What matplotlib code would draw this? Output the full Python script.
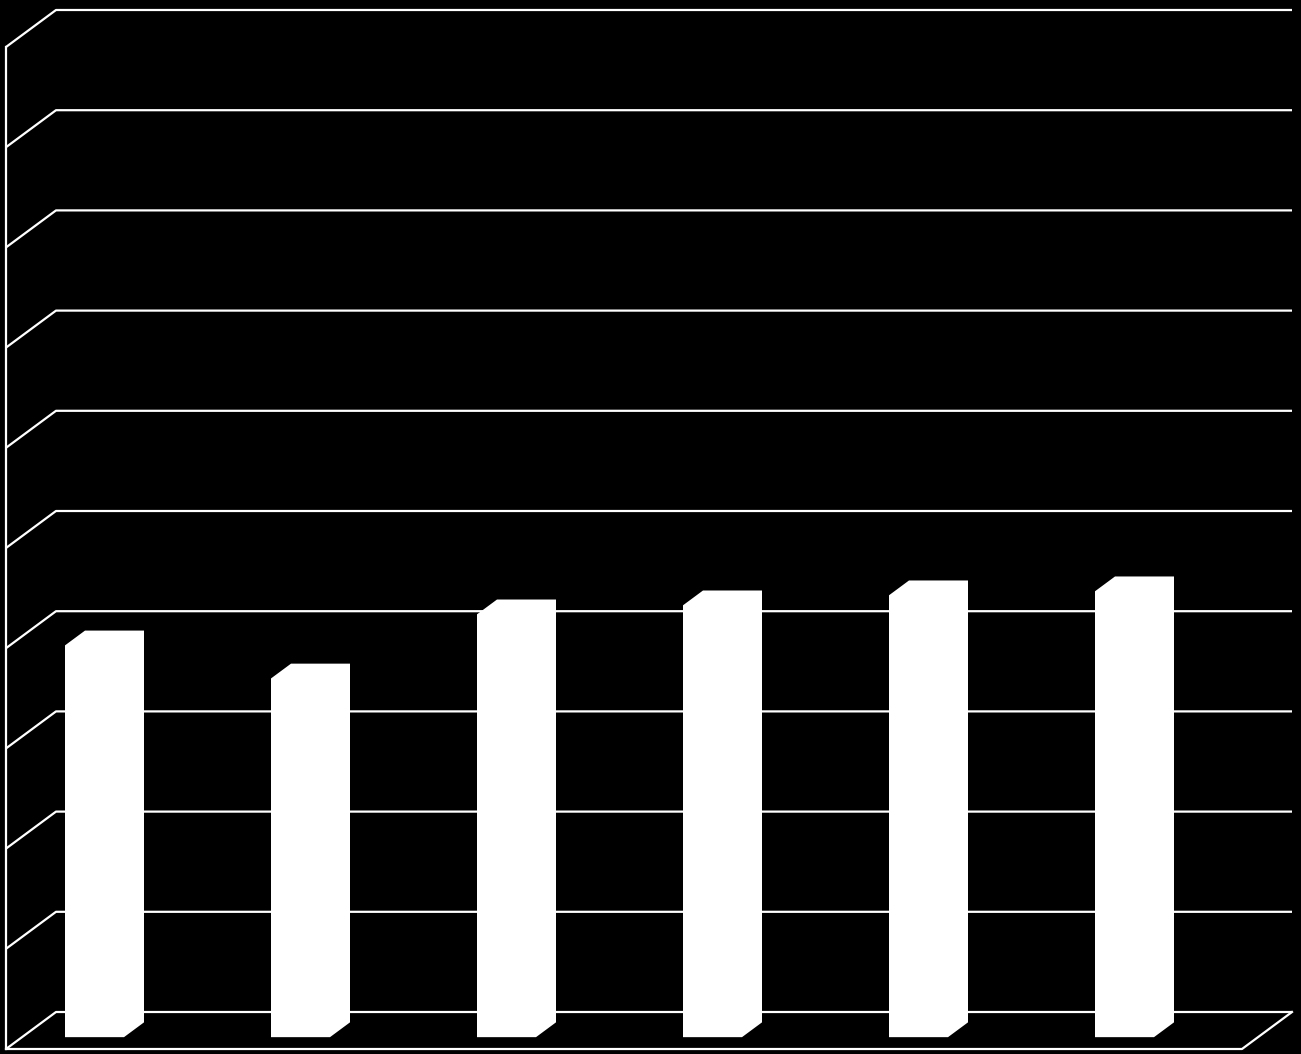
"""
3D-style bar chart on a black background: white bars, white gridlines on a
back wall with a slanted left wall and floor. No labels in the original.
"""

import numpy as np
import matplotlib
matplotlib.use("Agg")
import matplotlib.pyplot as plt
from matplotlib.patches import Polygon


categories = ["1", "2", "3", "4", "5", "6"]
values = [3.91, 3.58, 4.22, 4.31, 4.41, 4.45]
y_ticks = np.arange(0, 11, 1)

# depth offset of the wall (in data units: categories, value units)
DEPTH_X = 50 / 206
DEPTH_Y = 37 / 100.2
BAR_FRONT = 0.32   # depth fraction of bar front face
BAR_BACK = 0.72    # depth fraction of bar back face
BAR_LEFT = 43 / 206
BAR_WIDTH = 59 / 206


def project(x, y, depth):
    return x + depth * DEPTH_X, y + depth * DEPTH_Y


def main():
    fig = plt.figure(figsize=(13.01, 10.54), dpi=100, facecolor="black")
    ax = fig.add_axes([0, 0, 1, 1])
    ax.set_facecolor("black")
    ax.set_xlim(-6 / 206, 1295 / 206)
    ax.set_ylim(-5 / 100.2, 1049 / 100.2)
    ax.axis("off")

    n = len(categories)
    lw = 1.6

    # gridlines: back wall plus slanted left wall segment
    for t in y_ticks:
        x0, y0 = project(0, t, 0)
        x1, y1 = project(0, t, 1)
        x2, y2 = project(n, t, 1)
        ax.plot([x0, x1, x2], [y0, y1, y2], color="white", lw=lw,
                solid_capstyle="butt", zorder=1)

    # left front vertical edge
    ax.plot([0, 0], [0, y_ticks[-1]], color="white", lw=lw, zorder=1)

    # floor front edge and right slant
    fx, fy = project(n, 0, 1)
    ax.plot([0, n, fx], [0, 0, fy], color="white", lw=lw, zorder=1)

    # bars as white silhouettes
    for i, v in enumerate(values):
        xl = i + BAR_LEFT
        xr = xl + BAR_WIDTH
        pts = [
            project(xl, 0, BAR_FRONT),
            project(xl, v, BAR_FRONT),
            project(xl, v, BAR_BACK),
            project(xr, v, BAR_BACK),
            project(xr, 0, BAR_BACK),
            project(xr, 0, BAR_FRONT),
        ]
        ax.add_patch(Polygon(pts, closed=True, facecolor="white",
                             edgecolor="none", zorder=3))

    fig.savefig("out.png", dpi=100, facecolor="black")
    plt.close(fig)


if __name__ == "__main__":
    main()
